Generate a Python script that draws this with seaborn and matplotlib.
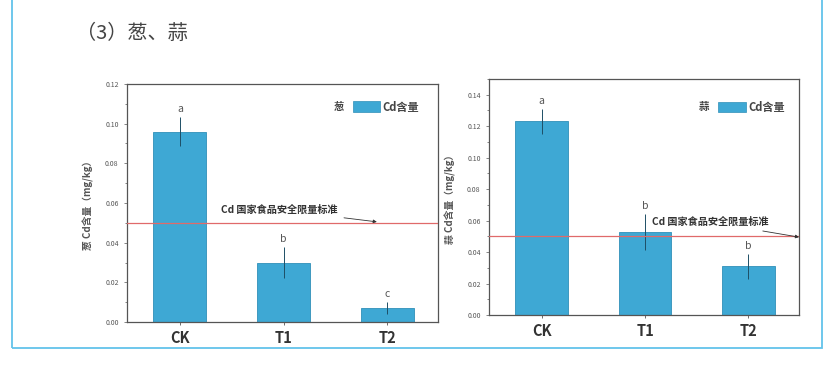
import matplotlib
matplotlib.use('Agg')
import matplotlib.pyplot as plt
from matplotlib.patches import Rectangle, Patch
from matplotlib.ticker import MultipleLocator
import pandas as pd
import seaborn as sns

# ---- data ----
treatments = ["CK", "T1", "T2"]
scallion_cd = [0.096, 0.030, 0.007]
scallion_err = [0.0075, 0.008, 0.003]
scallion_sig = ["a", "b", "c"]
garlic_cd = [0.123, 0.053, 0.031]
garlic_err = [0.008, 0.0115, 0.008]
garlic_sig = ["a", "b", "b"]
limit = 0.05

BAR = "#3ea8d4"
sns.set_style("white")
plt.rcParams['font.family'] = ['Noto Sans CJK SC', 'DejaVu Sans']

fig = plt.figure(figsize=(8.31, 3.67), dpi=100)

# light blue frame round the whole figure block
fig.patches.append(Rectangle((12 / 831, 1 - 348 / 367), 810 / 831, 360 / 367,
                             transform=fig.transFigure, fill=False,
                             edgecolor="#62c3ea", linewidth=1.3))
fig.text(76 / 831, 1 - 33 / 367, "（3）葱、蒜", fontsize=14.5, color="#444444",
         va="center", ha="left")


def panel(rect, values, errs, sigs, ylim, crop, note_xy, arrow_xy, leg_anchor, crop_x):
    ax = fig.add_axes(rect)
    df = pd.DataFrame({"处理": treatments, "Cd": values})
    sns.barplot(data=df, x="处理", y="Cd", color=BAR, width=0.51,
                edgecolor="#2f8fb8", linewidth=0.6, saturation=1, ax=ax)
    ax.errorbar(range(len(values)), values, yerr=errs, fmt="none",
                ecolor="#1d4f66", elinewidth=0.7, capsize=0)
    for i, (v, e, s) in enumerate(zip(values, errs, sigs)):
        ax.text(i, v + e + ylim * 0.012, s, ha="center", va="bottom",
                fontsize=7.5, color="#555555")
    # national limit line
    ax.axhline(limit, color="#e06a6a", linewidth=0.9, zorder=3)
    ax.annotate("Cd 国家食品安全限量标准", xy=arrow_xy, xytext=note_xy,
                fontsize=7.3, fontweight="bold", color="#333333",
                va="center", ha="left",
                arrowprops=dict(arrowstyle="-|>", color="#333333", lw=0.6,
                                mutation_scale=5, shrinkA=2, shrinkB=0))
    ax.set_xlim(-0.51, 2.49)
    ax.set_ylim(0, ylim)
    ax.yaxis.set_major_locator(MultipleLocator(0.02))
    ax.yaxis.set_minor_locator(MultipleLocator(0.01))
    ax.yaxis.set_major_formatter(matplotlib.ticker.FormatStrFormatter("%.2f"))
    ax.tick_params(axis="y", which="both", direction="out", left=True,
                   labelsize=5, length=2.5, width=0.5, colors="#555555")
    ax.tick_params(axis="y", which="minor", length=1.5)
    ax.tick_params(axis="x", direction="out", bottom=True, length=2.5,
                   width=0.5, labelsize=10.5, colors="#333333")
    for lab in ax.get_xticklabels():
        lab.set_fontweight("bold")
    ax.set_xlabel("")
    ax.set_ylabel(f"{crop} Cd含量（mg/kg）", fontsize=7, fontweight="bold",
                  color="#555555", labelpad=8)
    for sp in ax.spines.values():
        sp.set_color("#555555")
        sp.set_linewidth(0.9)
    leg = ax.legend(handles=[Patch(facecolor=BAR, edgecolor="#2f8fb8", lw=0.5)],
                    labels=["Cd含量"], loc="center right",
                    bbox_to_anchor=leg_anchor, frameon=False, fontsize=8,
                    handlelength=2.5, handleheight=1.1, handletextpad=0.2,
                    borderaxespad=0, borderpad=0)
    for t in leg.get_texts():
        t.set_fontweight("bold")
        t.set_color("#444444")
    ax.text(crop_x, leg_anchor[1], crop, transform=ax.transAxes, fontsize=7.5,
            fontweight="bold", color="#444444", va="center")
    return ax


ax1 = panel([127 / 831, 1 - 322 / 367, 311 / 831, 238 / 367],
            scallion_cd, scallion_err, scallion_sig, 0.12, "葱",
            (0.40, 0.0565), (1.90, 0.0505), (0.94, 0.903), 0.665)

ax2 = panel([489 / 831, 1 - 315 / 367, 310 / 831, 236 / 367],
            garlic_cd, garlic_err, garlic_sig, 0.15, "蒜",
            (1.07, 0.059), (2.49, 0.0495), (0.955, 0.88), 0.675)

fig.savefig("out.png", dpi=100)
plt.close(fig)
